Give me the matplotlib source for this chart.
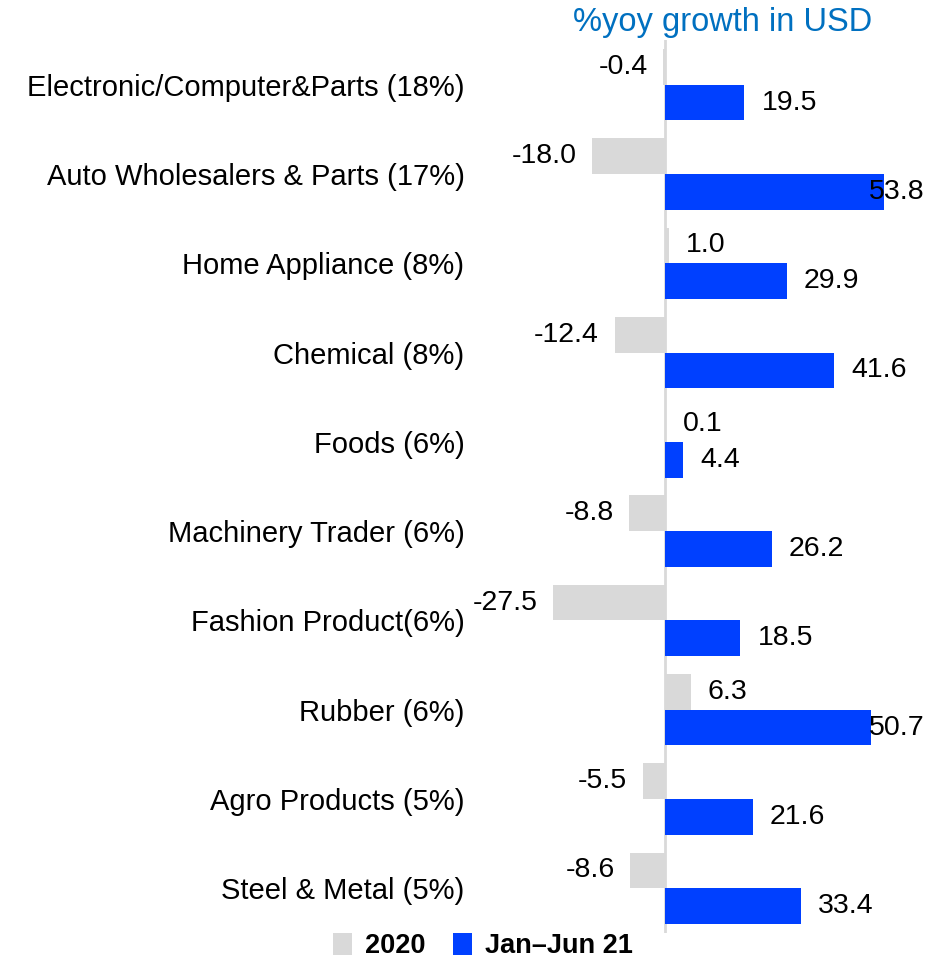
import numpy as np
import matplotlib.pyplot as plt

plt.rcParams['font.family'] = ['Liberation Sans', 'DejaVu Sans']

# data
categories = ['Electronic/Computer&Parts (18%)', 'Auto Wholesalers & Parts (17%)',
              'Home Appliance (8%)', 'Chemical (8%)', 'Foods (6%)',
              'Machinery Trader (6%)', 'Fashion Product(6%)', 'Rubber (6%)',
              'Agro Products (5%)', 'Steel & Metal (5%)']
growth_2020 = [-0.4, -18.0, 1.0, -12.4, 0.1, -8.8, -27.5, 6.3, -5.5, -8.6]
growth_h1_21 = [19.5, 53.8, 29.9, 41.6, 4.4, 26.2, 18.5, 50.7, 21.6, 33.4]
series_names = ['2020', 'Jan\u2013Jun 21']

gray = '#D9D9D9'
blue = '#0040FF'

fig = plt.figure(figsize=(9.35, 9.6), dpi=100)
ax = fig.add_axes([470 / 935, 1 - 933 / 960, 465 / 935, 893 / 960])

y = np.arange(len(categories))
h = 0.4
ax.barh(y - h / 2, growth_2020, height=h, color=gray, label=series_names[0])
ax.barh(y + h / 2, growth_h1_21, height=h, color=blue, label=series_names[1])
ax.axvline(0, color=gray, lw=2, zorder=0)

ax.set_xlim(-47.9, 66.3)
ax.set_ylim(len(categories) - 0.5, -0.5)
ax.set_yticks(y)
ax.set_yticklabels(categories, fontsize=21)
ax.tick_params(axis='y', length=0, pad=4)
ax.set_xticks([])
for s in ax.spines.values():
    s.set_visible(False)

# value labels
for i, v in enumerate(growth_2020):
    if v < 0:
        ax.text(v - 3.8, i - h / 2, f'{v:.1f}', ha='right', va='center', fontsize=20.5)
    else:
        ax.text(v + 4.2, i - h / 2, f'{v:.1f}', ha='left', va='center', fontsize=20.5)
for i, v in enumerate(growth_h1_21):
    ax.text(min(v + 4.2, 50.1), i + h / 2, f'{v:.1f}', ha='left', va='center', fontsize=20.5)

fig.text(723 / 935, 1 - 22 / 960, '%yoy growth in USD', color='#0070C0',
         fontsize=23.5, ha='center', va='center')

fig.legend(loc='center', bbox_to_anchor=(483 / 935, 1 - 946 / 960), ncol=2,
           frameon=False, prop={'size': 19.5, 'weight': 'bold'},
           handlelength=0.7, handleheight=0.9, handletextpad=0.5,
           columnspacing=1.0, borderpad=0)

fig.savefig('out.png', dpi=100)
